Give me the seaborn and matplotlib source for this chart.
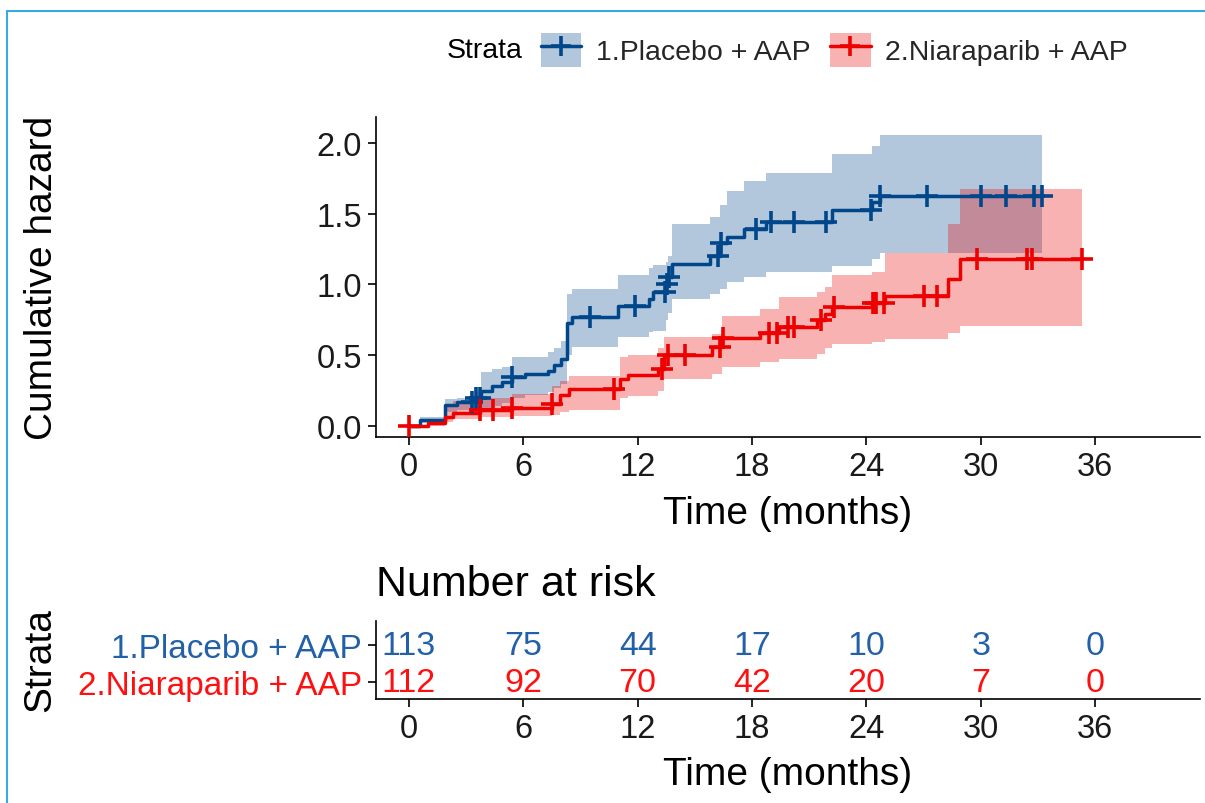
import numpy as np
import pandas as pd
import matplotlib
matplotlib.use("Agg")
import matplotlib.pyplot as plt
import seaborn as sns
from matplotlib.patches import Patch
from matplotlib.lines import Line2D

# ---------------- data ----------------
strata = ["1.Placebo + AAP", "2.Niaraparib + AAP"]
line_colors = ["#00468B", "#ED0000"]
text_colors = ["#2260a8", "#ff1010"]

placebo_time = [0, 0.6, 1.9, 2.5, 3.5, 3.8, 4.35, 4.9, 5.4, 6.1,
                7.3, 7.6, 8.0, 8.3, 8.55, 10.95, 12.6, 12.8, 13.5, 13.6,
                13.8, 15.8, 16.3, 16.7, 17.6, 18.75, 22.2, 24.3, 24.7]
placebo_cumhaz = [0, 0.04, 0.15, 0.17, 0.20, 0.25, 0.28, 0.31, 0.345, 0.37,
                  0.39, 0.43, 0.47, 0.73, 0.77, 0.85, 0.90, 0.95, 1.0, 1.05,
                  1.145, 1.20, 1.29, 1.335, 1.39, 1.44, 1.53, 1.58, 1.625]
placebo_upper = [0, 0.06, 0.19, 0.20, 0.24, 0.38, 0.40, 0.42, 0.49, 0.49,
                 0.52, 0.55, 0.60, 0.93, 0.97, 1.07, 1.12, 1.14, 1.16, 1.20,
                 1.43, 1.48, 1.56, 1.66, 1.73, 1.79, 1.92, 1.98, 2.06]
placebo_lower = [0, 0.02, 0.10, 0.11, 0.12, 0.13, 0.14, 0.16, 0.20, 0.22,
                 0.24, 0.27, 0.30, 0.50, 0.56, 0.63, 0.665, 0.67, 0.75, 0.80,
                 0.90, 0.93, 0.97, 1.02, 1.05, 1.09, 1.13, 1.18, 1.22]
placebo_end = 33.2
placebo_censor = [3.3, 3.5, 3.7, 5.4, 9.5, 11.85, 13.45, 13.55, 13.65, 16.2,
                  16.35, 18.2, 19.0, 20.2, 21.9, 24.25, 24.7, 27.2, 30.0,
                  31.3, 32.8, 33.2]

nira_time = [0, 1.0, 1.9, 2.3, 3.7, 5.4, 7.5, 7.9, 8.4, 11.05, 11.5, 13.05,
             13.4, 15.9, 16.4, 18.4, 19.4, 21.4, 21.8, 22.2, 24.3, 25.0,
             28.3, 28.9]
nira_cumhaz = [0, 0.02, 0.06, 0.09, 0.11, 0.13, 0.155, 0.22, 0.26, 0.33,
               0.36, 0.40, 0.50, 0.56, 0.62, 0.66, 0.70, 0.75, 0.79, 0.84,
               0.87, 0.92, 1.04, 1.18]
nira_upper = [0, 0.05, 0.155, 0.18, 0.20, 0.225, 0.28, 0.32, 0.35, 0.49,
              0.50, 0.55, 0.63, 0.65, 0.78, 0.83, 0.91, 0.95, 0.98, 1.07,
              1.09, 1.22, 1.43, 1.675]
nira_lower = [0, 0.0, 0.03, 0.05, 0.06, 0.07, 0.08, 0.10, 0.11, 0.20,
              0.21, 0.25, 0.33, 0.37, 0.42, 0.45, 0.47, 0.51, 0.55, 0.58,
              0.59, 0.615, 0.66, 0.705]
nira_end = 35.3
nira_censor = [0, 3.7, 4.4, 5.4, 7.5, 10.75, 13.3, 13.6, 14.5, 16.3, 16.5,
               18.9, 19.3, 19.9, 20.2, 21.6, 22.3, 24.35, 24.5, 24.9, 27.0,
               27.7, 29.8, 32.4, 32.7, 35.3]

risk_times = [0, 6, 12, 18, 24, 30, 36]
risk_placebo = [113, 75, 44, 17, 10, 3, 0]
risk_nira = [112, 92, 70, 42, 20, 7, 0]

y_ticks = [0.0, 0.5, 1.0, 1.5, 2.0]

# ---------------- style ----------------
sns.set_theme(style="white")
plt.rcParams["font.family"] = ["Liberation Sans", "DejaVu Sans"]
plt.rcParams["axes.linewidth"] = 1.2

W, H = 1205, 804
fig = plt.figure(figsize=(W / 100, H / 100), dpi=100)

def fx(px):
    return px / W

def fy(py):
    return 1 - py / H

ax = fig.add_axes([fx(376), fy(438), fx(1200) - fx(376), fy(118) - fy(438)])
axr = fig.add_axes([fx(376), fy(700), fx(1200) - fx(376), fy(622) - fy(700)])

xlim = (-1.73, 41.5)

series = [
    (placebo_time, placebo_cumhaz, placebo_lower, placebo_upper, placebo_end, placebo_censor),
    (nira_time, nira_cumhaz, nira_lower, nira_upper, nira_end, nira_censor),
]

# bands
for (t, h, lo, up, tend, cens), col in zip(series, line_colors):
    tt = np.array(list(t) + [tend])
    lo2 = np.array(list(lo) + [lo[-1]])
    up2 = np.array(list(up) + [up[-1]])
    ax.fill_between(tt, lo2, up2, step="post", color=col, alpha=0.3, lw=0)

# lines
for (t, h, lo, up, tend, cens), col, name in zip(series, line_colors, strata):
    df = pd.DataFrame({"time": list(t) + [tend], "cumhaz": list(h) + [h[-1]]})
    sns.lineplot(data=df, x="time", y="cumhaz", ax=ax, color=col, lw=2.5,
                 drawstyle="steps-post", estimator=None, sort=False)

# censor marks
for (t, h, lo, up, tend, cens), col in zip(series, line_colors):
    idx = np.searchsorted(np.array(t), np.array(cens), side="right") - 1
    yc = np.array(h)[idx]
    sns.scatterplot(x=cens, y=yc, ax=ax, marker="+", s=230, color=col,
                    linewidth=2.6, zorder=5)

ax.set_xlim(*xlim)
ax.set_ylim(-0.078, 2.184)
ax.set_xticks(risk_times)
ax.set_yticks(y_ticks)
ax.set_yticklabels([f"{v:.1f}" for v in y_ticks])
ax.set_xlabel("")
ax.set_ylabel("")
for s in ["top", "right"]:
    ax.spines[s].set_visible(False)
for s in ["left", "bottom"]:
    ax.spines[s].set_color("black")
ax.tick_params(axis="both", which="both", direction="out", length=6, width=1.2,
               color="black", labelsize=23.5, labelcolor="#1a1a1a", pad=4,
               left=True, bottom=True)

fig.text(fx(42), fy(278), "Cumulative hazard", rotation=90, ha="center",
         va="center", fontsize=28, color="black")
fig.text(fx(788), fy(514), "Time (months)", ha="center", va="center",
         fontsize=28, color="black")

# legend
handles = []
for col in line_colors:
    handles.append((Patch(facecolor=col, alpha=0.3, edgecolor="none"),
                    Line2D([], [], color=col, lw=2.5, marker="+",
                           markersize=14, mew=2.6)))
fig.text(fx(447), fy(51), "Strata", ha="left", va="center", fontsize=20.5,
         color="black")
fig.legend(handles, strata, loc="center left",
           bbox_to_anchor=(fx(541), fy(51)), bbox_transform=fig.transFigure,
           ncol=2, frameon=False, fontsize=20.5, handlelength=1.42,
           handleheight=1.5, handletextpad=0.5, columnspacing=0.7,
           borderpad=0, borderaxespad=0)

# risk table
axr.set_xlim(*xlim)
axr.set_ylim(0.55, 2.65)
rows = [risk_placebo, risk_nira]
row_pos = [2, 1]
for vals, yp, col in zip(rows, row_pos, text_colors):
    for tx, v in zip(risk_times, vals):
        axr.text(tx, yp, str(v), ha="center", va="center", fontsize=24.5,
                 color=col)
axr.set_xticks(risk_times)
axr.set_yticks(row_pos)
axr.set_yticklabels(strata, fontsize=24)
for lab, col in zip(axr.get_yticklabels(), text_colors):
    lab.set_color(col)
for s in ["top", "right"]:
    axr.spines[s].set_visible(False)
for s in ["left", "bottom"]:
    axr.spines[s].set_color("black")
axr.tick_params(axis="both", direction="out", length=6, width=1.2,
                color="black", pad=4, left=True, bottom=True)
axr.tick_params(axis="x", labelsize=23.5, labelcolor="#1a1a1a")
axr.set_xlabel("")
axr.set_ylabel("")

fig.text(fx(376), fy(585), "Number at risk", ha="left", va="center",
         fontsize=31, color="black")
fig.text(fx(40), fy(660), "Strata", rotation=90, ha="center", va="center",
         fontsize=28, color="black")
fig.text(fx(788), fy(775), "Time (months)", ha="center", va="center",
         fontsize=28, color="black")

# screenshot frame lines
frame_col = "#3aa9e0"
fig.add_artist(Line2D([fx(7), 1], [fy(12), fy(12)], color=frame_col, lw=1.5,
                      transform=fig.transFigure))
fig.add_artist(Line2D([fx(7), fx(7)], [fy(12), 0], color=frame_col, lw=1.5,
                      transform=fig.transFigure))

fig.savefig("out.png", dpi=100)
